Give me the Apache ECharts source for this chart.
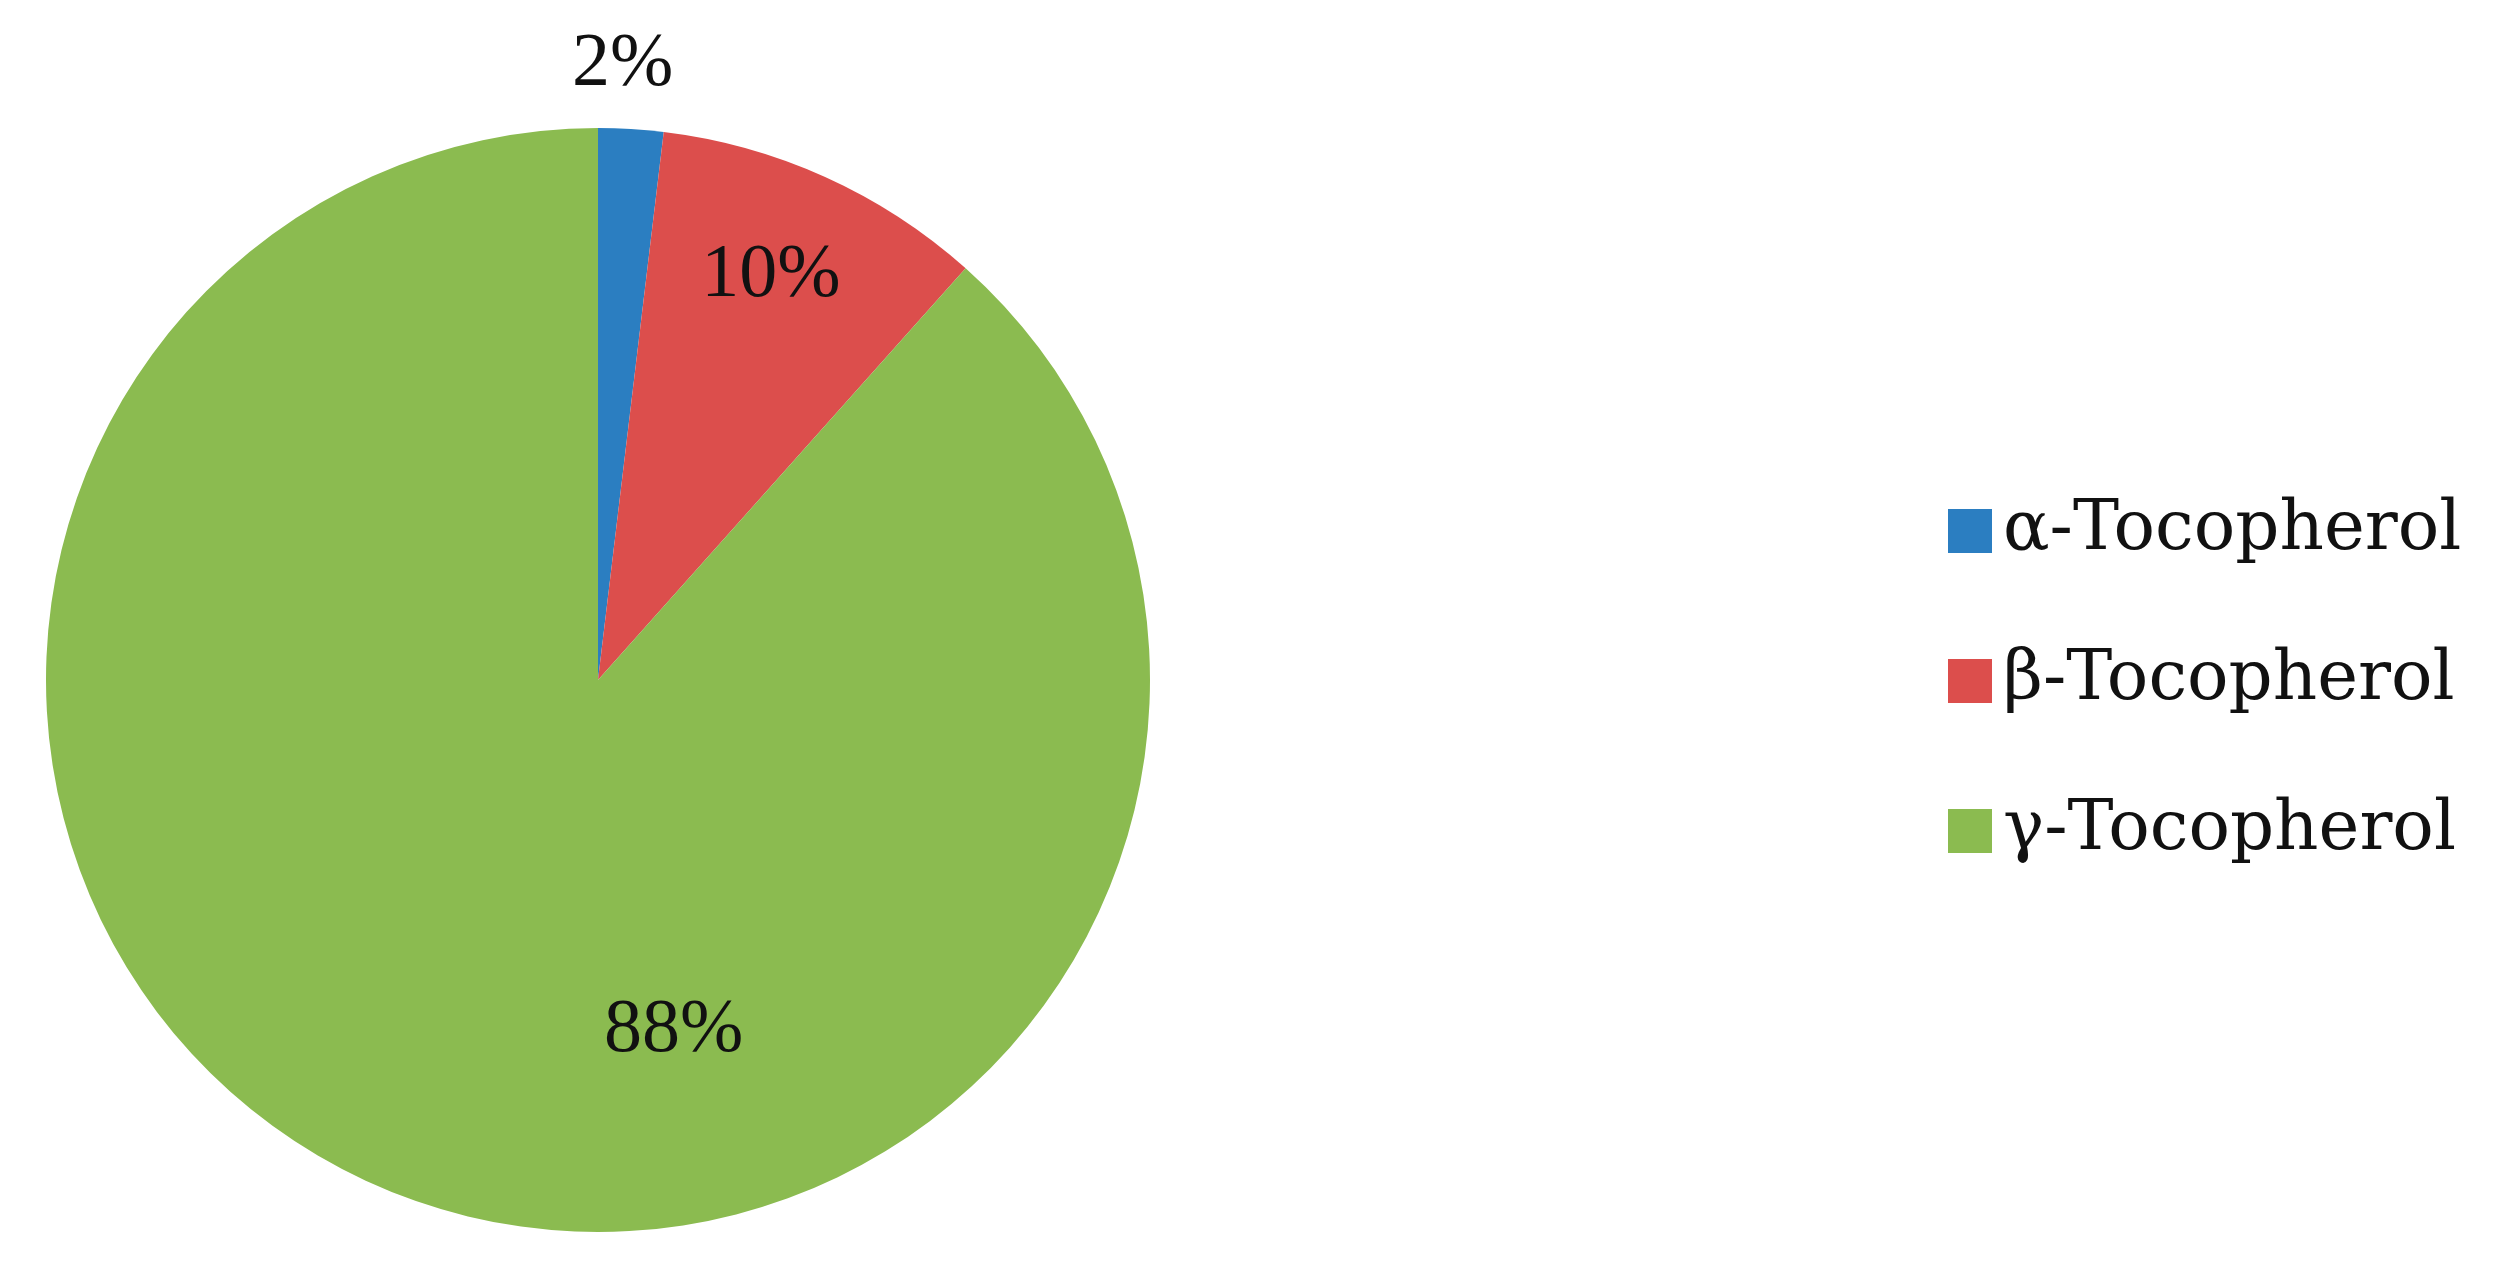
<!DOCTYPE html>
<html>
<head>
<meta charset="utf-8">
<script src="https://cdn.jsdelivr.net/npm/echarts@6/dist/echarts.min.js"></script>
<style>
html,body{margin:0;padding:0;background:#fff;}
#c{width:2495px;height:1279px;}
</style>
</head>
<body>
<div id="c"></div>
<script>
// Data (percent shares)
var categories = ['α-Tocopherol', 'β-Tocopherol', 'γ-Tocopherol'];
var values = [1.9, 9.7, 88.4];
var colors = ['#2B7EC1', '#DC4E4C', '#8BBB50'];

// label offsets (styling, relative to ECharts' inside label position)
var labelOffsets = [[8, -336], [58, -150], [175, 90]];

var chart = echarts.init(document.getElementById('c'), null, {renderer: 'canvas'});
var labelFont = '"Liberation Serif", "DejaVu Serif", serif';
var legendFont = '"DejaVu Serif", "Liberation Serif", serif';
var data = categories.map(function (name, i) {
  return {
    name: name,
    value: values[i],
    itemStyle: {color: colors[i]},
    label: {offset: labelOffsets[i]}
  };
});

chart.setOption({
  animation: false,
  backgroundColor: '#ffffff',
  legend: {
    orient: 'vertical',
    left: 1943,
    top: 486,
    itemWidth: 44,
    itemHeight: 44,
    itemGap: 70,
    icon: 'rect',
    data: categories,
    textStyle: {fontFamily: legendFont, fontSize: 69, color: '#111', lineHeight: 80, padding: [0, 0, 0, 6]}
  },
  series: [{
    type: 'pie',
    center: [598, 680],
    radius: [0, 552],
    startAngle: 90,
    clockwise: true,
    silent: true,
    data: data,
    label: {
      show: true,
      position: 'inside',
      formatter: function (p) { return Math.round(p.percent) + '%'; },
      fontFamily: labelFont,
      fontSize: 76,
      color: '#111'
    },
    labelLine: {show: false},
    itemStyle: {borderWidth: 0}
  }]
});
</script>
</body>
</html>
